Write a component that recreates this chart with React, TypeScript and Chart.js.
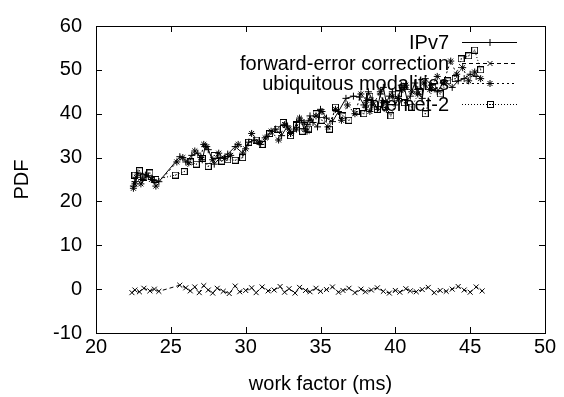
import { useEffect, useRef } from 'react';
import { Chart, registerables } from 'chart.js';

Chart.register(...registerables);

const seriesNames = ['IPv7', 'forward-error correction', 'ubiquitous modalities', 'Internet-2'];

const xTicks = [20, 25, 30, 35, 40, 45, 50];
const yTicks = [-10, 0, 10, 20, 30, 40, 50, 60];

const ipv7X = [22.5, 22.6, 22.8, 23.1, 23.5, 23.9, 24.2, 25.6, 26.0, 26.4, 26.8, 27.1, 27.3, 27.5, 27.9, 28.3, 28.8, 29.3, 29.8, 30.2, 30.6, 31.0, 31.5, 32.0, 32.4, 32.8, 33.0, 33.2, 33.4, 33.7, 33.9, 34.1, 34.3, 34.5, 34.8, 35.0, 35.4, 35.8, 36.2, 36.7, 37.2, 37.6, 37.9, 38.0, 38.2, 38.5, 38.8, 39.0, 39.2, 39.4, 39.6, 39.8, 40.0, 40.2, 40.4, 40.6, 40.8, 41.0, 41.3, 41.5, 41.8, 42.0, 42.4, 42.8, 43.3, 43.8, 44.2, 44.6, 45.0, 45.4];
const ipv7Y = [23.5, 24.5, 26.5, 25.0, 25.8, 24.8, 24.5, 30.2, 29.0, 30.5, 31.0, 29.5, 32.5, 31.8, 28.5, 30.0, 30.8, 32.5, 31.0, 33.5, 34.0, 33.0, 34.8, 36.5, 35.0, 37.2, 35.5, 36.0, 38.0, 38.5, 36.5, 37.5, 39.5, 38.0, 37.0, 41.0, 39.0, 38.2, 40.5, 43.5, 44.0, 43.8, 42.0, 41.5, 45.0, 43.0, 41.0, 44.5, 46.0, 42.5, 44.0, 45.0, 42.0, 43.5, 46.5, 46.0, 43.0, 44.0, 47.0, 45.5, 43.5, 48.0, 46.5, 45.0, 47.5, 46.0, 47.5, 48.0, 49.0, 48.5];

const fecX = [22.4, 22.6, 22.9, 23.2, 23.6, 23.9, 24.2, 25.6, 26.0, 26.3, 26.6, 26.9, 27.2, 27.5, 27.8, 28.1, 28.5, 28.9, 29.3, 29.6, 30.0, 30.4, 30.7, 31.1, 31.5, 31.9, 32.3, 32.6, 32.9, 33.3, 33.6, 34.0, 34.3, 34.7, 35.0, 35.4, 35.8, 36.2, 36.5, 36.9, 37.3, 37.7, 38.0, 38.4, 38.8, 39.2, 39.6, 40.0, 40.3, 40.7, 41.0, 41.4, 41.8, 42.2, 42.6, 43.0, 43.4, 43.8, 44.2, 44.6, 45.0, 45.4, 45.8];
const fecY = [-0.8, -0.2, -0.6, 0.2, -0.4, 0.0, -0.5, 0.9, 0.3, -0.4, 0.5, -0.8, 0.8, -0.2, -0.9, 0.2, -0.5, -1.0, 0.7, -0.6, -0.3, 0.3, -0.8, 0.5, -0.4, -0.2, 0.6, -0.7, 0.1, -0.9, 0.4, -0.3, -0.6, 0.2, -0.5, -0.1, 0.5, -0.7, -0.3, 0.2, -0.8, 0.0, -0.6, -0.2, 0.3, -0.5, -0.9, -0.3, -0.7, 0.1, -0.4, -0.6, -0.1, 0.4, -0.8, -0.3, -0.5, 0.0, 0.6, -0.2, -0.7, 0.5, -0.4];

const ubiqX = [22.5, 22.6, 22.7, 23.0, 23.3, 23.7, 24.0, 25.4, 25.8, 26.2, 26.6, 27.0, 27.2, 27.4, 27.8, 28.2, 28.6, 29.0, 29.5, 30.0, 30.4, 30.9, 31.3, 31.7, 32.2, 32.6, 32.9, 33.0, 33.4, 33.6, 33.9, 34.1, 34.3, 34.7, 35.1, 35.5, 36.0, 36.4, 36.8, 37.3, 37.7, 38.1, 38.3, 38.5, 39.0, 39.2, 39.4, 39.8, 40.2, 40.5, 40.7, 41.1, 41.5, 41.9, 42.3, 42.8, 43.2, 43.7, 44.1, 44.5, 44.9, 45.3, 45.7];
const ubiqY = [23.0, 24.0, 25.5, 24.0, 26.0, 25.0, 23.5, 29.0, 30.0, 28.8, 31.5, 30.0, 33.0, 32.5, 29.5, 31.0, 29.8, 30.5, 33.0, 32.0, 35.5, 33.5, 34.5, 36.0, 34.0, 37.5, 36.5, 35.5, 36.5, 39.0, 38.0, 36.0, 38.5, 39.5, 40.5, 37.0, 41.0, 38.5, 42.0, 40.0, 44.5, 43.0, 40.5, 42.0, 45.0, 42.5, 41.0, 44.0, 43.5, 45.5, 46.5, 45.0, 44.5, 47.0, 45.5, 48.5, 47.0, 52.0, 49.0, 50.5, 47.5, 49.5, 48.0];

const inetX = [22.6, 22.9, 23.2, 23.6, 24.0, 25.3, 25.9, 26.3, 26.7, 27.1, 27.5, 27.9, 28.4, 28.8, 29.3, 29.8, 30.2, 30.7, 31.1, 31.6, 32.1, 32.5, 33.0, 33.4, 33.8, 34.2, 34.7, 35.1, 35.6, 36.0, 36.5, 36.9, 37.4, 37.9, 38.3, 38.8, 39.3, 39.7, 40.2, 40.6, 41.1, 41.6, 42.0, 42.5, 43.0, 43.5, 44.0, 44.4, 44.9, 45.3, 45.7];
const inetY = [26.0, 27.0, 25.5, 26.5, 25.0, 26.0, 26.8, 29.0, 28.5, 29.8, 28.0, 30.5, 29.2, 29.5, 29.4, 30.0, 33.5, 34.0, 33.0, 35.5, 36.5, 38.0, 35.0, 37.5, 36.0, 36.5, 40.0, 38.5, 36.5, 41.5, 39.5, 38.5, 40.5, 40.0, 44.0, 41.0, 42.0, 39.5, 44.5, 42.5, 41.5, 45.0, 40.0, 46.0, 44.5, 47.5, 48.0, 52.5, 53.2, 54.5, 50.0];

const FONT = "'Liberation Sans', Arial, sans-serif";

function makeSquare(): HTMLCanvasElement {
  const c = document.createElement('canvas');
  c.width = 7;
  c.height = 7;
  const g = c.getContext('2d')!;
  g.strokeStyle = '#000';
  g.lineWidth = 1;
  g.strokeRect(0.5, 0.5, 6, 6);
  g.fillStyle = '#000';
  g.fillRect(3, 3, 1, 1);
  return c;
}

function drawMarker(ctx: CanvasRenderingContext2D, style: any, x: number, y: number, r: number) {
  ctx.save();
  ctx.strokeStyle = '#000';
  ctx.lineWidth = 1;
  ctx.setLineDash([]);
  if (style instanceof HTMLCanvasElement) {
    ctx.drawImage(style, Math.round(x - style.width / 2), Math.round(y - style.height / 2));
  } else {
    ctx.beginPath();
    if (style === 'cross' || style === 'star') {
      ctx.moveTo(x - r, y); ctx.lineTo(x + r, y);
      ctx.moveTo(x, y - r); ctx.lineTo(x, y + r);
    }
    if (style === 'crossRot' || style === 'star') {
      const d = r * 0.7071;
      ctx.moveTo(x - d, y - d); ctx.lineTo(x + d, y + d);
      ctx.moveTo(x - d, y + d); ctx.lineTo(x + d, y - d);
    }
    ctx.stroke();
  }
  ctx.restore();
}

export default function App() {
  const ref = useRef<HTMLCanvasElement | null>(null);

  useEffect(() => {
    if (!ref.current) return;
    const square = makeSquare();
    const styles: any[] = ['cross', 'crossRot', 'star', square];
    const dashes = [[], [4, 3], [2, 3], [1, 2]];
    const xs = [ipv7X, fecX, ubiqX, inetX];
    const ys = [ipv7Y, fecY, ubiqY, inetY];

    const datasets = seriesNames.map((name, i) => ({
      label: name,
      data: xs[i].map((x, j) => ({ x, y: ys[i][j] })),
      borderColor: '#000',
      backgroundColor: 'rgba(0,0,0,0)',
      borderWidth: 1,
      borderDash: dashes[i],
      pointStyle: styles[i],
      pointRadius: 3.5,
      pointBorderColor: '#000',
      pointBorderWidth: 1,
      tension: 0,
      fill: false,
    }));

    const framePlugin = {
      id: 'frame',
      beforeDatasetsDraw(chart: any) {
        const { ctx, chartArea } = chart;
        const { left, right, top, bottom } = chartArea;
        ctx.save();
        ctx.strokeStyle = '#000';
        ctx.lineWidth = 1;
        ctx.setLineDash([]);
        ctx.strokeRect(Math.round(left) + 0.5, Math.round(top) + 0.5, Math.round(right - left), Math.round(bottom - top));
        const tl = 6;
        ctx.beginPath();
        chart.scales.x.ticks.forEach((t: any) => {
          const px = Math.round(chart.scales.x.getPixelForValue(t.value)) + 0.5;
          ctx.moveTo(px, bottom); ctx.lineTo(px, bottom - tl);
          ctx.moveTo(px, top); ctx.lineTo(px, top + tl);
        });
        chart.scales.y.ticks.forEach((t: any) => {
          const py = Math.round(chart.scales.y.getPixelForValue(t.value)) + 0.5;
          ctx.moveTo(left, py); ctx.lineTo(left + tl, py);
          ctx.moveTo(right, py); ctx.lineTo(right - tl, py);
        });
        ctx.stroke();

        // legend
        ctx.font = `20px ${FONT}`;
        ctx.fillStyle = '#000';
        ctx.textAlign = 'right';
        ctx.textBaseline = 'middle';
        seriesNames.forEach((name, i) => {
          const y = Math.round(top + 16 + i * 20.7) + 0.5;
          ctx.fillText(name, right - 96, y + 1);
          ctx.beginPath();
          ctx.setLineDash(dashes[i]);
          ctx.moveTo(right - 83, y);
          ctx.lineTo(right - 28, y);
          ctx.stroke();
          ctx.setLineDash([]);
          drawMarker(ctx, styles[i], right - 55, y, 3.5);
        });
        ctx.restore();
      },
    };

    const chart = new Chart(ref.current, {
      type: 'line',
      data: { datasets },
      options: {
        animation: false,
        responsive: false,
        maintainAspectRatio: false,
        layout: { padding: { top: 17, right: 19, left: 0, bottom: 0 } },
        plugins: { legend: { display: false }, tooltip: { enabled: false } },
        scales: {
          x: {
            type: 'linear',
            min: 20,
            max: 50,
            afterBuildTicks: (s: any) => { s.ticks = xTicks.map((v) => ({ value: v })); },
            afterFit: (s: any) => { s.height = 64; },
            grid: { display: false, drawTicks: false },
            border: { display: false },
            ticks: { color: '#000', font: { family: FONT, size: 20 }, padding: 2, maxRotation: 0, autoSkip: false },
            title: { display: true, text: 'work factor (ms)', color: '#000', font: { family: FONT, size: 20 }, padding: { top: 0, bottom: 1 } },
          },
          y: {
            type: 'linear',
            min: -10,
            max: 60,
            afterBuildTicks: (s: any) => { s.ticks = yTicks.map((v) => ({ value: v })); },
            afterFit: (s: any) => { s.width = 96; },
            grid: { display: false, drawTicks: false },
            border: { display: false },
            ticks: { color: '#000', font: { family: FONT, size: 20 }, padding: 14, autoSkip: false },
            title: { display: true, text: 'PDF', color: '#000', font: { family: FONT, size: 20 }, padding: { top: 10, bottom: 0 } },
          },
        },
      },
      plugins: [framePlugin],
    });
    return () => chart.destroy();
  }, []);

  return (
    <div style={{ position: 'fixed', left: 0, top: 0, width: 564, height: 397, background: '#fff' }}>
      <canvas ref={ref} width={564} height={397} style={{ width: 564, height: 397 }} />
    </div>
  );
}
